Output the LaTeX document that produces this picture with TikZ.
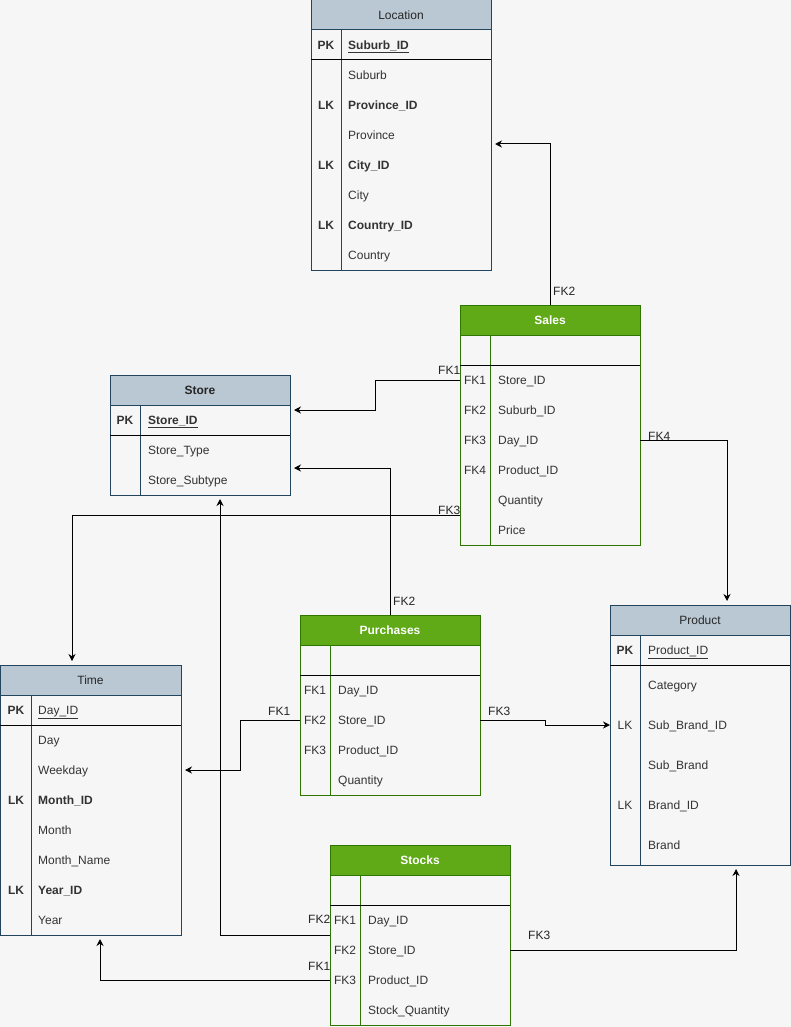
\documentclass[tikz,border=0pt]{standalone}
\usepackage{fontspec}
\setmainfont{Liberation Sans}
\usetikzlibrary{arrows.meta}
\definecolor{bg}{HTML}{F6F6F6}
\definecolor{dimfill}{HTML}{BAC8D3}
\definecolor{dimline}{HTML}{23445D}
\definecolor{factfill}{HTML}{60A917}
\definecolor{factline}{HTML}{2D7600}
\definecolor{rowtext}{HTML}{333333}
\begin{document}
\begin{tikzpicture}[x=1pt,y=-1pt,
    every node/.style={font=\fontsize{12pt}{14pt}\selectfont, text=rowtext},
    box/.style={anchor=north west, minimum width=180pt, inner sep=0pt, outer sep=0pt, line width=1pt},
    dimbox/.style={box, draw=dimline},
    dimhead/.style={box, draw=dimline, fill=dimfill, minimum height=30pt, text=black!85},
    factbox/.style={box, draw=factline},
    facthead/.style={box, draw=factline, fill=factfill, minimum height=30pt, text=white,
      font=\fontsize{12pt}{14pt}\selectfont\bfseries},
    key/.style={anchor=center, inner sep=0pt, text height=8.6pt, text depth=0pt},
    field/.style={anchor=west, inner sep=0pt, text height=8.6pt, text depth=0pt},
    dimcol/.style={draw=dimline, line width=1pt},
    factcol/.style={draw=factline, line width=1pt},
    sep/.style={draw=black, line width=1pt},
    fk/.style={line width=1pt, -{Stealth[length=7pt,width=7pt]}},
    fklabel/.style={anchor=west, inner sep=0pt, text height=8.6pt, text depth=0pt, text=black!85}]
    \useasboundingbox (0,0) rectangle (791,1027);
    \fill[bg] (0,0) rectangle (791,1027);

    \node[dimbox, minimum height=270pt] (location) at (311,0) {};
    \node[dimhead] (location-head) at (311,0) {Location};
    \draw[dimcol] (341,30) -- (341,270);
    \draw[sep] (311,60) -- (491,60);
    \foreach \k/\f/\y [count=\i] in {{\textbf{PK}}/{\textbf{\underline{Suburb\_ID}}}/45,
        {}/Suburb/75, {\textbf{LK}}/{\textbf{Province\_ID}}/105, {}/Province/135,
        {\textbf{LK}}/{\textbf{City\_ID}}/165, {}/City/195,
        {\textbf{LK}}/{\textbf{Country\_ID}}/225, {}/Country/255} {
        \node[key] (location-k\i) at (326,\y) {\k};
        \node[field] (location-\i) at (348,\y) {\f};
    }

    \node[factbox, minimum height=240pt] (sales) at (460,305) {};
    \node[facthead] (sales-head) at (460,305) {Sales};
    \draw[factcol] (490,335) -- (490,545);
    \draw[sep] (460,365) -- (640,365);
    \foreach \k/\f/\y [count=\i] in {FK1/Store\_ID/380, FK2/Suburb\_ID/410, FK3/Day\_ID/440,
        FK4/Product\_ID/470, {}/Quantity/500, {}/Price/530} {
        \node[key] (sales-k\i) at (475,\y) {\k};
        \node[field] (sales-\i) at (498,\y) {\f};
    }

    \node[dimbox, minimum height=120pt] (store) at (110,375) {};
    \node[dimhead, font=\fontsize{12pt}{14pt}\selectfont\bfseries] (store-head) at (110,375) {Store};
    \draw[dimcol] (140,405) -- (140,495);
    \draw[sep] (110,435) -- (290,435);
    \foreach \k/\f/\y [count=\i] in {{\textbf{PK}}/{\textbf{\underline{Store\_ID}}}/420,
        {}/Store\_Type/450, {}/Store\_Subtype/480} {
        \node[key] (store-k\i) at (125,\y) {\k};
        \node[field] (store-\i) at (148,\y) {\f};
    }

    \node[dimbox, minimum width=181pt, minimum height=270pt] (time) at (0,665) {};
    \node[dimhead, minimum width=181pt] (time-head) at (0,665) {Time};
    \draw[dimcol] (31,695) -- (31,935);
    \draw[sep] (0,725) -- (181,725);
    \foreach \k/\f/\y [count=\i] in {{\textbf{PK}}/{\underline{Day\_ID}}/710,
        {}/Day/740, {}/Weekday/770, {\textbf{LK}}/{\textbf{Month\_ID}}/800, {}/Month/830,
        {}/Month\_Name/860, {\textbf{LK}}/{\textbf{Year\_ID}}/890, {}/Year/920} {
        \node[key] (time-k\i) at (16,\y) {\k};
        \node[field] (time-\i) at (38,\y) {\f};
    }

    \node[factbox, minimum height=180pt] (purchases) at (300,615) {};
    \node[facthead] (purchases-head) at (300,615) {Purchases};
    \draw[factcol] (330,645) -- (330,795);
    \draw[sep] (300,675) -- (480,675);
    \foreach \k/\f/\y [count=\i] in {FK1/Day\_ID/690, FK2/Store\_ID/720,
        FK3/Product\_ID/750, {}/Quantity/780} {
        \node[key] (purchases-k\i) at (315,\y) {\k};
        \node[field] (purchases-\i) at (338,\y) {\f};
    }

    \node[dimbox, minimum height=260pt] (product) at (610,605) {};
    \node[dimhead] (product-head) at (610,605) {Product};
    \draw[dimcol] (640,635) -- (640,865);
    \draw[sep] (610,665) -- (790,665);
    \foreach \k/\f/\y [count=\i] in {{\textbf{PK}}/{\underline{Product\_ID}}/650,
        {}/Category/685, LK/Sub\_Brand\_ID/725, {}/Sub\_Brand/765,
        LK/Brand\_ID/805, {}/Brand/845} {
        \node[key] (product-k\i) at (625,\y) {\k};
        \node[field] (product-\i) at (648,\y) {\f};
    }

    \node[factbox, minimum height=180pt] (stocks) at (330,845) {};
    \node[facthead] (stocks-head) at (330,845) {Stocks};
    \draw[factcol] (360,875) -- (360,1025);
    \draw[sep] (330,905) -- (510,905);
    \foreach \k/\f/\y [count=\i] in {FK1/Day\_ID/920, FK2/Store\_ID/950,
        FK3/Product\_ID/980, {}/Stock\_Quantity/1010} {
        \node[key] (stocks-k\i) at (345,\y) {\k};
        \node[field] (stocks-\i) at (368,\y) {\f};
    }

    \draw[fk] (sales.north) |- ([shift={(4,144)}]location.north east);
    \draw[fk] (sales.west |- sales-1) -- ++(-85,0) |- ([shift={(4,35)}]store.north east);
    \draw[fk] (sales.east |- sales-3) -| ([shift={(117,-4)}]product.north west);
    \draw[fk] (sales.west |- 0,515) -| ([shift={(72,-4)}]time.north west);
    \draw[fk] (purchases.north) |- ([shift={(4,93)}]store.north east);
    \draw[fk] (purchases.west |- purchases-2) -- ++(-60,0) |- ([xshift=4pt]time.east |- time-3);
    \draw[fk] (purchases.east |- purchases-2) -- ++(65,0) |- (product.west |- product-3);
    \draw[fk] (stocks.west |- 0,935) -| ([shift={(110,4)}]store.south west);
    \draw[fk] (stocks.west |- 0,980) -| ([shift={(100,4)}]time.south west);
    \draw[fk] (stocks.east |- stocks-2) -| ([shift={(126,4)}]product.south west);

    \node[fklabel] (fk-sales-location) at (553,291) {FK2};
    \node[fklabel] (fk-sales-store) at (438,370) {FK1};
    \node[fklabel] (fk-sales-product) at (648,436) {FK4};
    \node[fklabel] (fk-sales-time) at (438,510) {FK3};
    \node[fklabel] (fk-purchases-store) at (393,601) {FK2};
    \node[fklabel] (fk-purchases-time) at (268,711) {FK1};
    \node[fklabel] (fk-purchases-product) at (488,711) {FK3};
    \node[fklabel] (fk-stocks-store) at (308,919) {FK2};
    \node[fklabel] (fk-stocks-time) at (308,966) {FK1};
    \node[fklabel] (fk-stocks-product) at (528,935) {FK3};
\end{tikzpicture}
\end{document}
